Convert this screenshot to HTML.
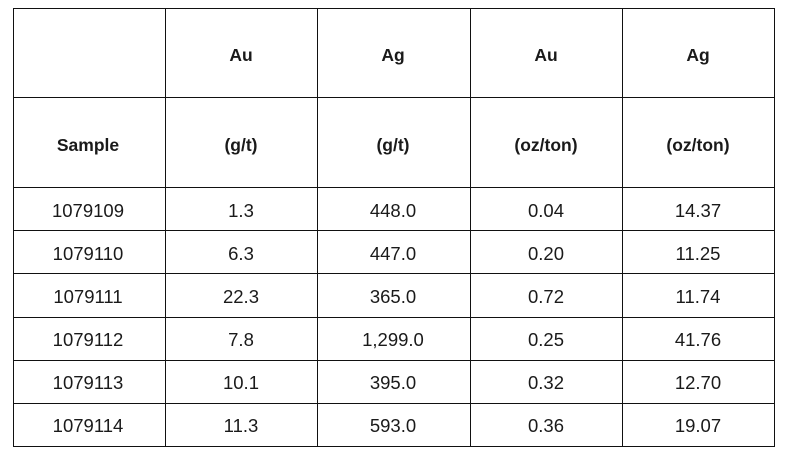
<!DOCTYPE html><html><head><style>
body{margin:0;width:791px;height:462px;background:#fff;position:relative;overflow:hidden;font-family:"Liberation Sans",sans-serif;color:#1a1a1a}
.h{position:absolute;background:#111;height:1px;left:13px;width:762px}
.v{position:absolute;background:#111;width:1px;top:8px;height:439px}
.t{position:absolute;width:152px;text-align:center;font-size:18.5px;line-height:22px}
.b{font-weight:bold;font-size:17.5px}
</style></head><body>
<div class="h" style="top:8px"></div><div class="h" style="top:97px"></div><div class="h" style="top:187px"></div><div class="h" style="top:230px"></div><div class="h" style="top:273px"></div><div class="h" style="top:317px"></div><div class="h" style="top:360px"></div><div class="h" style="top:403px"></div><div class="h" style="top:446px"></div>
<div class="v" style="left:13px"></div><div class="v" style="left:165px"></div><div class="v" style="left:317px"></div><div class="v" style="left:470px"></div><div class="v" style="left:622px"></div><div class="v" style="left:774px"></div>
<div id="c"></div>
<script>
var xs=[13,165,317,470,622];
var rows=[[44,["","Au","Ag","Au","Ag"],1],[134,["Sample","(g/t)","(g/t)","(oz/ton)","(oz/ton)"],1],
[200,["1079109","1.3","448.0","0.04","14.37"]],[243,["1079110","6.3","447.0","0.20","11.25"]],
[286,["1079111","22.3","365.0","0.72","11.74"]],[329,["1079112","7.8","1,299.0","0.25","41.76"]],
[372,["1079113","10.1","395.0","0.32","12.70"]],[415,["1079114","11.3","593.0","0.36","19.07"]]];
var h="";rows.forEach(function(r){r[1].forEach(function(s,i){var l=xs[i]+(i==0?-1:0);h+='<div class="t'+(r[2]?' b':'')+'" style="left:'+l+'px;top:'+r[0]+'px">'+s+'</div>';});});
document.getElementById("c").innerHTML=h;
</script>
</body></html>
